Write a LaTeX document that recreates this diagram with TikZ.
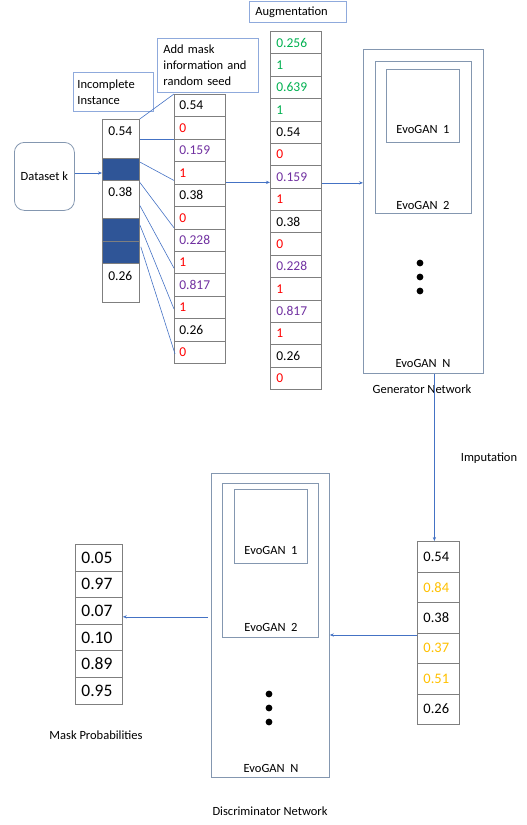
\documentclass[tikz,border=0pt]{standalone}
\usepackage{fontspec}
\setmainfont{Carlito}
\usetikzlibrary{arrows.meta,calc}
\definecolor{cred}{HTML}{FF0000}
\definecolor{cpurple}{HTML}{7030A0}
\definecolor{cgreen}{HTML}{00B050}
\definecolor{corange}{HTML}{FFC000}
\definecolor{cblue}{HTML}{2F5597}
\definecolor{cline}{HTML}{4472C4}
\definecolor{cgray}{HTML}{7F7F7F}
\definecolor{cbox}{HTML}{8497B0}
\definecolor{clabel}{HTML}{8FAADC}
\begin{document}
\begin{tikzpicture}[x=1pt,y=-1pt,
  every node/.style={font=\fontsize{12.5}{16}\selectfont},
  cellbase/.style={draw=cgray, line width=0.8pt, anchor=north west, align=left, inner ysep=0pt},
  cellA/.style={cellbase, inner xsep=6pt, text width=25pt, font=\fontsize{13.5}{15}\selectfont},
  cellAw/.style={cellA, text height=16pt, text depth=22pt},
  cellAb/.style={cellA, fill=cblue, minimum height=22.4pt},
  cellB/.style={cellbase, inner xsep=5pt, text width=41pt, minimum height=22.42pt, font=\fontsize{13.5}{15}\selectfont},
  cellC/.style={cellbase, inner xsep=6pt, text width=39pt, minimum height=22.38pt, font=\fontsize{13.5}{15}\selectfont},
  cellD/.style={cellbase, inner xsep=6pt, text width=30pt, minimum height=30.5pt, font=\fontsize{14.5}{16}\selectfont},
  cellE/.style={cellbase, inner xsep=6pt, text width=35pt, minimum height=26.5pt, font=\fontsize{17.5}{19}\selectfont},
  labelbox/.style={draw=clabel, line width=0.8pt, anchor=north west, align=left, inner xsep=4pt, inner ysep=0pt},
  netbox/.style={draw=cbox, line width=0.8pt, anchor=north west, inner sep=0pt},
  evo/.style={font=\fontsize{12.5}{14}\selectfont},
  conn/.style={draw=cline, line width=0.6pt},
  arr/.style={conn, -{Stealth[length=4pt,width=3.2pt]}}
]
\useasboundingbox (0,0) rectangle (527,825);

% Dataset
\node[draw=cbox, line width=0.8pt, rounded corners=10pt, minimum width=60pt, minimum height=68pt, anchor=north west, inner sep=0pt] (ds) at (14,142) {Dataset k};

% Column 1: incomplete instance
\node[cellAw, minimum height=39pt] (a1) at (102,119) {0.54};
\node[cellAb] (a2) at (102,158) {};
\node[cellAw, minimum height=38pt] (a3) at (102,180.4) {0.38};
\node[cellAb] (a4) at (102,218.4) {};
\node[cellAb] (a5) at (102,240.8) {};
\node[cellAw, minimum height=38.8pt] (a6) at (102,263.2) {0.26};

% Column 2: mask information and random seed
\foreach \v/\c [count=\i] in {0.54/black,0/cred,0.159/cpurple,1/cred,0.38/black,0/cred,0.228/cpurple,1/cred,0.817/cpurple,1/cred,0.26/black,0/cred}
  \node[cellB, text=\c] (b\i) at (174,{94+22.42*(\i-1)}) {\v};

% Column 3: augmentation
\foreach \v/\c [count=\i] in {0.256/cgreen,1/cgreen,0.639/cgreen,1/cgreen,0.54/black,0/cred,0.159/cpurple,1/cred,0.38/black,0/cred,0.228/cpurple,1/cred,0.817/cpurple,1/cred,0.26/black,0/cred}
  \node[cellC, text=\c] (c\i) at (270,{31+22.38*(\i-1)}) {\v};

% Labels
\node[labelbox, minimum width=80pt, minimum height=39pt, text width=72pt] (lInc) at (73,72) {Incomplete\\Instance};
\node[labelbox, minimum width=101pt, minimum height=54pt, text width=93pt, inner xsep=6pt, text width=89pt] (lAdd) at (157,38) {Add mask\\information and\\random seed};
\node[labelbox, minimum width=97pt, minimum height=21pt, text width=85pt, inner xsep=6pt] (lAug) at (249,1) {Augmentation};

% Generator network
\node[netbox, minimum width=120pt, minimum height=324pt] (gen) at (363,49) {};
\node[netbox, minimum width=96pt, minimum height=152pt] (gen2) at (375,61) {};
\node[netbox, minimum width=73pt, minimum height=73pt] (gen1) at (386,69) {};
\node[evo] (g1t) at (423,129) {EvoGAN\ \ 1};
\node[evo] (g2t) at (423,205) {EvoGAN\ \ 2};
\node[evo] (gNt) at (423,363) {EvoGAN\ \ N};
\fill (420,263) circle (3.4pt) (420,277) circle (3.4pt) (420,291) circle (3.4pt);
\node (gent) at (422,389) {Generator Network};

% Imputed column
\foreach \v/\c [count=\i] in {0.54/black,0.84/corange,0.38/black,0.37/corange,0.51/corange,0.26/black}
  \node[cellD, text=\c] (d\i) at (417,{541+30.5*(\i-1)}) {\v};
\node (impt) at (489,458) {Imputation};

% Discriminator network
\node[netbox, minimum width=118pt, minimum height=304pt] (disc) at (211,473) {};
\node[netbox, minimum width=96pt, minimum height=154pt] (disc2) at (222,483) {};
\node[netbox, minimum width=73pt, minimum height=74pt] (disc1) at (234,489) {};
\node[evo] (d1t) at (271,550) {EvoGAN\ \ 1};
\node[evo] (d2t) at (271,627) {EvoGAN\ \ 2};
\node[evo] (dNt) at (271,768) {EvoGAN\ \ N};
\fill (269,694) circle (3.4pt) (269,708) circle (3.4pt) (269,722) circle (3.4pt);
\node (disct) at (270,811) {Discriminator Network};

% Mask probabilities column
\foreach \v [count=\i] in {0.05,0.97,0.07,0.10,0.89,0.95}
  \node[cellE] (m\i) at (75,{544+26.6*(\i-1)}) {\v};
\node (maskt) at (96,735) {Mask Probabilities};

% Connectors
\draw[arr] (ds.east |- 0,173) -- (a2.west |- 0,173);
\draw[conn] (a1.north east) -- (b1.north west);
\draw[conn] (a1.east) -- (a1.east -| b2.west);
\draw[conn] ([yshift=-4pt]a2.north east) -- ([yshift=4pt]b4.south west);
\draw[conn] ([yshift=-2pt]a3.north east) -- ([yshift=1.5pt]b6.south west);
\draw[conn] ([yshift=-25pt]a3.north east) -- ([yshift=6pt]b8.south west);
\draw[conn] ([yshift=-6.5pt]a4.north east) -- ([yshift=10pt]b10.south west);
\draw[conn] ([xshift=1pt,yshift=-6pt]a5.north east) -- ([xshift=1pt,yshift=10pt]b12.south west);
\draw[arr] ([yshift=-9.5pt]b4.east) -- ([yshift=-9.5pt]b4.east -| c1.west);
\draw[arr] ([yshift=-6pt]c7.east) -- ([yshift=-6pt]c7.east -| gen.west);
\draw[arr] ([xshift=-4pt]d1.north |- gen.south) -- ([xshift=-4pt]d1.north);
\draw[arr] ([yshift=-2.5pt]d4.north west) -- ([yshift=-2.5pt]d4.north west -| disc.east);
\draw[arr] ([xshift=-3pt,yshift=-6pt]m3.east -| disc.west) -- ([yshift=-6pt]m3.east);
\end{tikzpicture}
\end{document}
